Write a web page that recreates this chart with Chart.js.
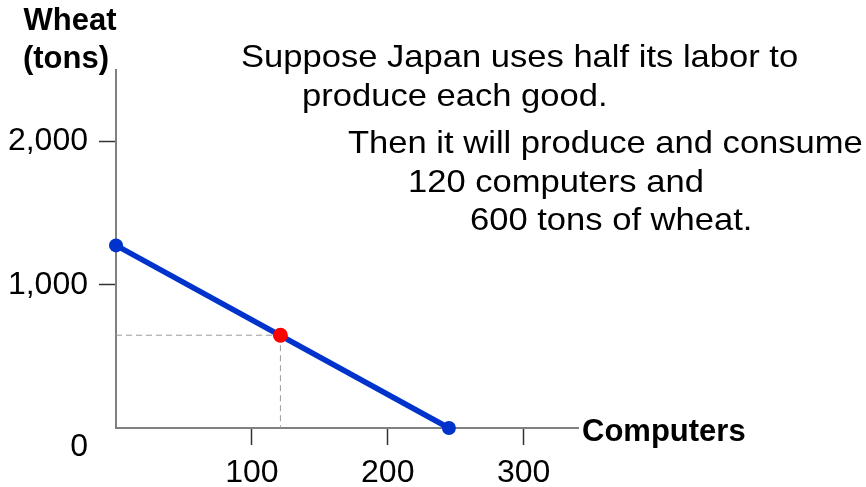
<!DOCTYPE html>
<html lang="en">
<head>
  <meta charset="UTF-8">
  <title>Japan - half labor</title>
  <script src="https://cdn.jsdelivr.net/npm/chart.js"></script>
  <style>
    body { margin: 0; background: #fff; }
    #contenedor { width: 866px; height: 487px; }
  </style>
</head>
<body>
  <div id="contenedor"><canvas id="grafico" width="866" height="487"></canvas></div>

  <script>
    // frontier end points (computers, tons of wheat)
    const computers = [0, 245];
    const wheat = [1275, 0];

    // point where half the labor goes to each good
    const halfComputers = [121];
    const halfWheat = [648];

    const xTicks = [100, 200, 300];
    const yTicks = [0, 1000, 2000];

    const yTitle = ['Wheat', '(tons)'];
    const xTitle = 'Computers';
    const notes = [
      'Suppose Japan uses half its labor to',
      'produce each good.',
      'Then it will produce and consume',
      '120 computers and',
      '600 tons of wheat.'
    ];

    const FONT = '"Liberation Sans", Arial, sans-serif';
    Chart.defaults.font.family = FONT;

    const frontier = computers.map((c, i) => ({ x: c, y: wheat[i] }));
    const half = halfComputers.map((c, i) => ({ x: c, y: halfWheat[i] }));
    const guideH = [{ x: 0, y: halfWheat[0] }, { x: halfComputers[0], y: halfWheat[0] }];
    const guideV = [{ x: halfComputers[0], y: halfWheat[0] }, { x: halfComputers[0], y: 0 }];

    // texts that are not part of the axes
    const textos = {
      id: 'textos',
      afterDraw(chart) {
        const ctx = chart.ctx;
        ctx.save();
        ctx.fillStyle = '#000';
        ctx.textBaseline = 'alphabetic';
        ctx.textAlign = 'center';

        ctx.font = 'bold 31px ' + FONT;
        ctx.fillText(yTitle[0], 70, 30);
        ctx.fillText(yTitle[1], 66, 68);

        ctx.textAlign = 'left';
        ctx.fillText(xTitle, 582, 441);

        // the notes look slightly stretched in the original
        ctx.font = '32px ' + FONT;
        const pos = [[241, 67], [302, 106], [348, 153], [408, 192], [470, 230]];
        notes.forEach((t, i) => {
          ctx.save();
          ctx.translate(pos[i][0], pos[i][1]);
          ctx.scale(1.08, 1);
          ctx.fillText(t, 0, 0);
          ctx.restore();
        });
        ctx.restore();
      }
    };

    new Chart(document.getElementById('grafico'), {
      type: 'scatter',
      data: {
        datasets: [
          {
            data: half,
            pointRadius: 7.5,
            pointHoverRadius: 7.5,
            pointBackgroundColor: '#ff0000',
            pointBorderWidth: 0,
            clip: false,
            order: 0
          },
          {
            data: frontier,
            showLine: true,
            borderColor: '#0033cc',
            borderWidth: 5.5,
            pointRadius: 7,
            pointHoverRadius: 7,
            pointBackgroundColor: '#0033cc',
            pointBorderWidth: 0,
            clip: false,
            order: 1
          },
          {
            data: guideH,
            showLine: true,
            borderColor: '#9a9a9a',
            borderWidth: 1,
            borderDash: [6, 4],
            pointRadius: 0,
            order: 2
          },
          {
            data: guideV,
            showLine: true,
            borderColor: '#9a9a9a',
            borderWidth: 1,
            borderDash: [6, 4],
            pointRadius: 0,
            order: 2
          }
        ]
      },
      options: {
        responsive: false,
        animation: false,
        events: [],
        layout: { padding: { top: 70, right: 288, left: 0, bottom: 0 } },
        plugins: {
          legend: { display: false },
          tooltip: { enabled: false }
        },
        scales: {
          x: {
            type: 'linear',
            min: 0,
            max: 340,
            afterBuildTicks: s => { s.ticks = xTicks.map(v => ({ value: v })); },
            afterFit: s => { s.height = 59; },
            border: { display: true, color: '#808080', width: 2 },
            grid: { drawOnChartArea: false, drawTicks: true, tickLength: 17, tickColor: '#333', tickWidth: 1.5 },
            ticks: { color: '#000', font: { size: 32 }, padding: 9, maxRotation: 0 }
          },
          y: {
            type: 'linear',
            min: 0,
            max: 2500,
            afterBuildTicks: s => { s.ticks = yTicks.map(v => ({ value: v })); },
            afterFit: s => { s.width = 116; },
            border: { display: true, color: '#808080', width: 2 },
            grid: {
              drawOnChartArea: false,
              drawTicks: true,
              tickLength: 17,
              tickWidth: 1.5,
              tickColor: c => (c.tick && c.tick.value === 0) ? 'rgba(0,0,0,0)' : '#333'
            },
            ticks: {
              color: '#000',
              font: { size: 32 },
              padding: 11,
              // the zero sits below the corner in the original
              callback: v => v === 0 ? ['', '0'] : v.toLocaleString('en-US')
            }
          }
        }
      },
      plugins: [textos]
    });
  </script>
</body>
</html>
